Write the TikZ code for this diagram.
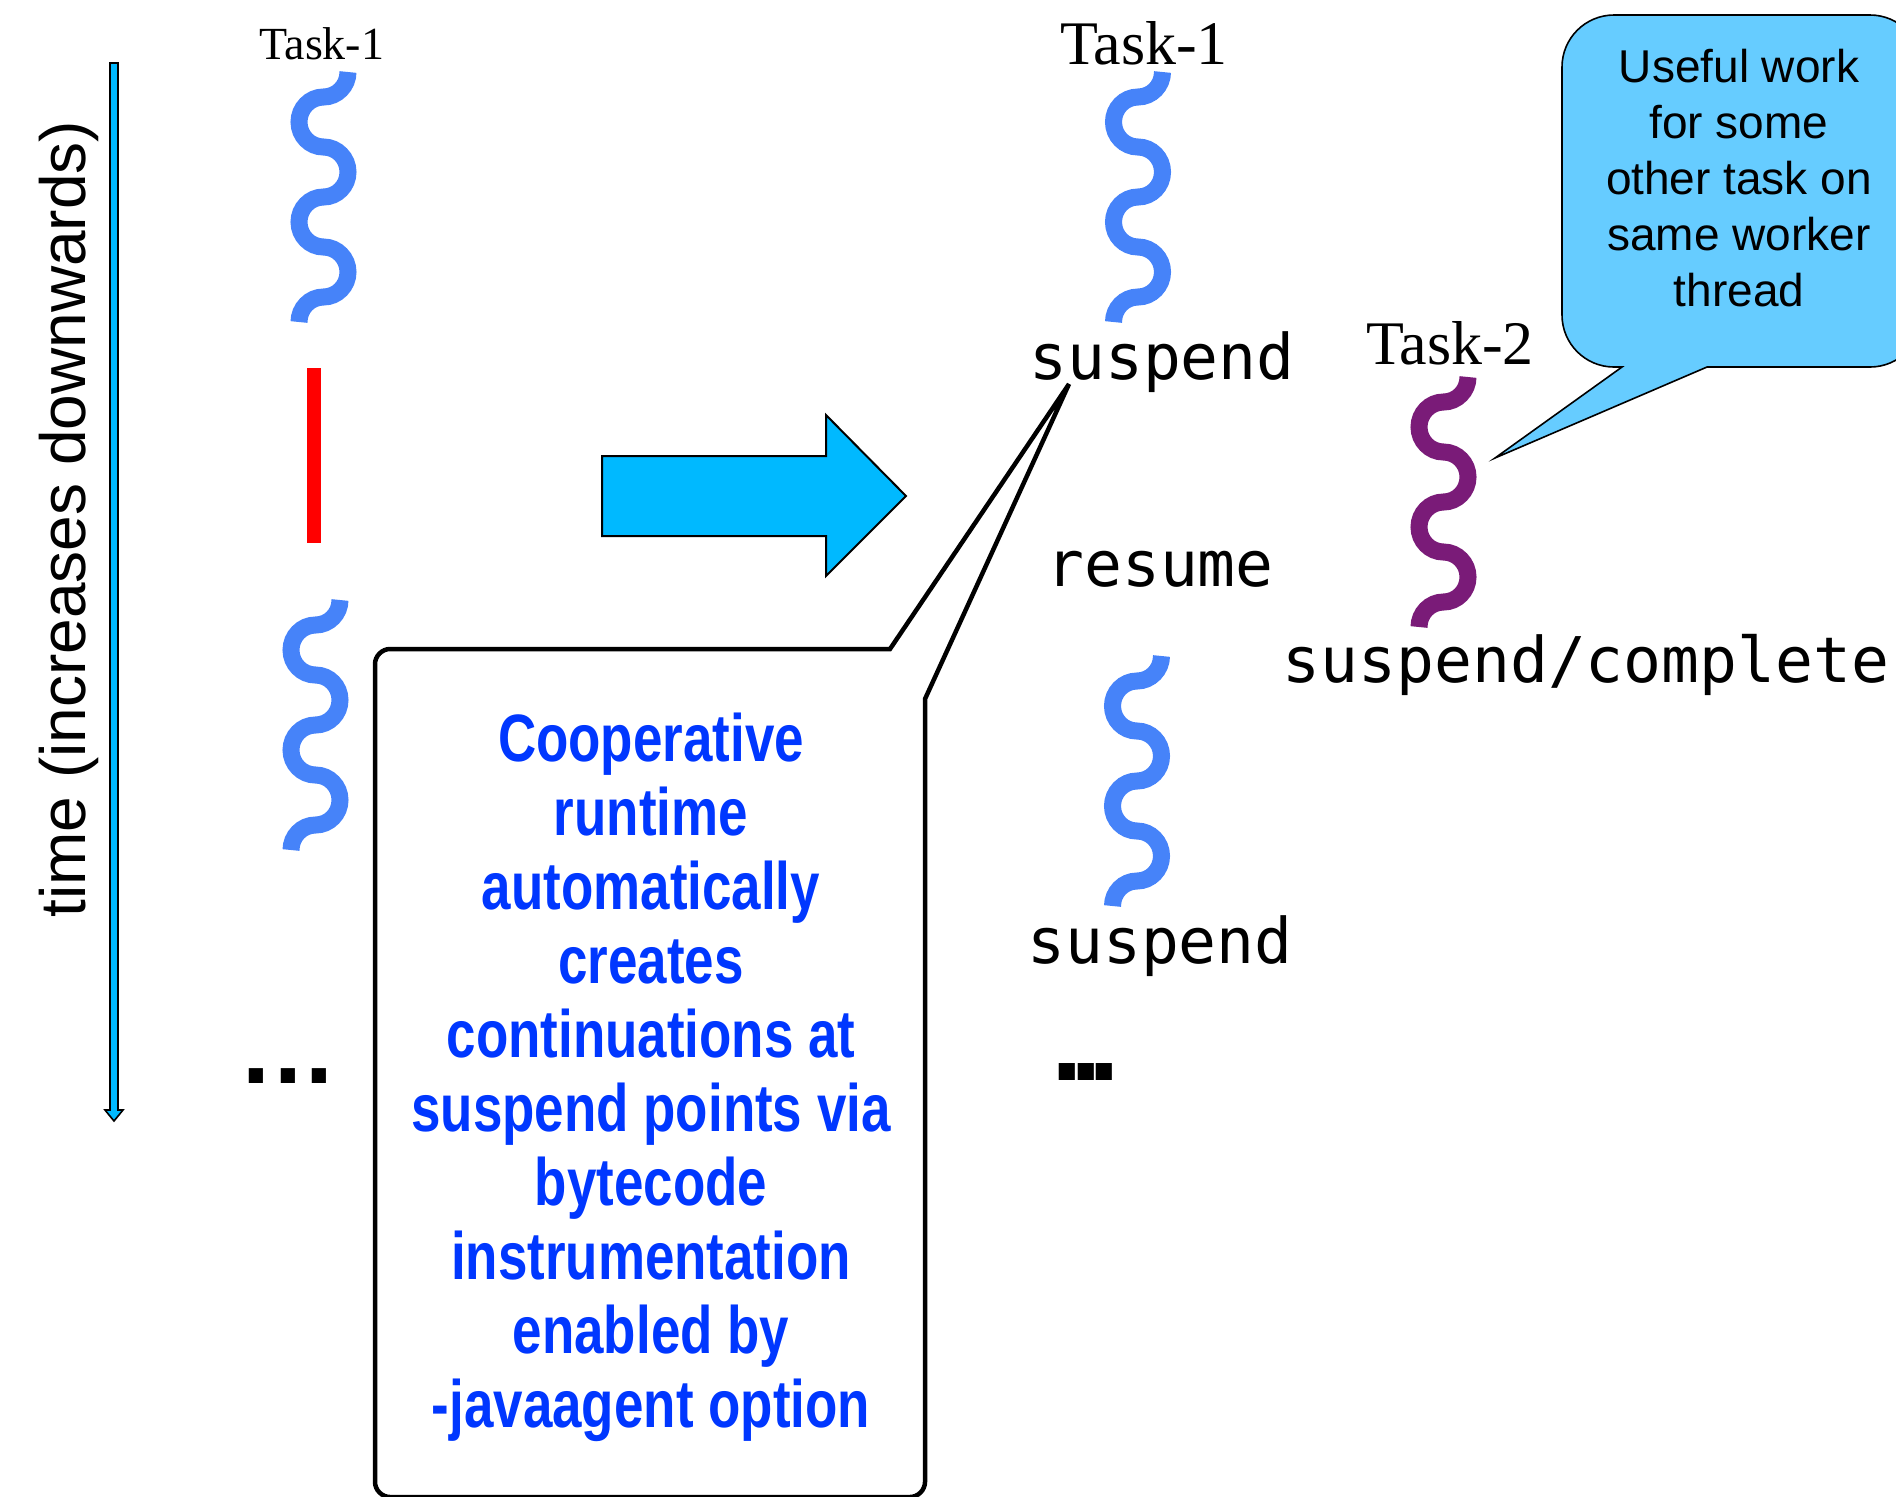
\documentclass[tikz,border=0pt]{standalone}
\usepackage{fontspec}
\setmainfont{Liberation Serif}
\newfontfamily\arialfont{Liberation Sans}
\newfontfamily\condfont[FakeStretch=0.79]{Liberation Sans}
\newfontfamily\codefont{DejaVu Sans Mono}

\definecolor{waveblue}{HTML}{4683F9}
\definecolor{wavepurple}{HTML}{7A1B78}
\definecolor{arrowcyan}{HTML}{00B9FF}
\definecolor{bubblecyan}{HTML}{66CCFF}
\definecolor{noteblue}{HTML}{0037FF}

% one wavy task segment: middle x, top y, colour
\newcommand\taskwave[3]{%
  \begin{scope}[shift={(#1,#2)}]
    \draw[line width=8.5pt,#3]
      (24.5,0) .. controls (24.5,13.8) and (13.5,25) .. (0,25)
      .. controls (-13.5,25) and (-24.5,36.2) .. (-24.5,50)
      .. controls (-24.5,63.8) and (-13.5,75) .. (0,75)
      .. controls (13.5,75) and (24.5,86.2) .. (24.5,100)
      .. controls (24.5,113.8) and (13.5,125) .. (0,125)
      .. controls (-13.5,125) and (-24.5,136.2) .. (-24.5,150)
      .. controls (-24.5,163.8) and (-13.5,175) .. (0,175)
      .. controls (13.5,175) and (24.5,186.2) .. (24.5,200)
      .. controls (24.5,213.8) and (13.5,225) .. (0,225)
      .. controls (-13.5,225) and (-24.5,236.2) .. (-24.5,250);
  \end{scope}}

\tikzset{
  tasklbl/.style={anchor=base,inner sep=0pt,font=\fontsize{31pt}{36pt}\selectfont},
  codelbl/.style={anchor=base,inner sep=0pt,font=\codefont\fontsize{31.5pt}{36pt}\selectfont},
  noteline/.style={anchor=base,inner sep=0pt,text=noteblue,
    font=\condfont\bfseries\fontsize{33.5pt}{37pt}\selectfont},
  bubbleline/.style={anchor=base,inner sep=0pt,
    font=\arialfont\fontsize{23pt}{28pt}\selectfont},
  blockarrow/.style={fill=arrowcyan,draw=black,line width=1pt,line join=miter},
}

\begin{document}
\begin{tikzpicture}[x=0.5pt,y=-0.5pt]
\useasboundingbox (0,0) rectangle (1896,1496);
\clip (0,0) rectangle (1896,1496);

% time axis
\draw[blockarrow,line width=0.8pt] (110,63) -- (118,63) -- (118,1110) -- (123,1110)
  -- (114,1121) -- (105,1110) -- (110,1110) -- cycle;
\node[rotate=90,anchor=base,inner sep=0pt,font=\arialfont\fontsize{32pt}{38pt}\selectfont]
  (timelbl) at (85,519) {time (increases downwards)};

% blocking execution of Task-1
\node[tasklbl,font=\fontsize{23pt}{28pt}\selectfont] (lefttask) at (322,59) {Task-1};
\taskwave{323.5}{72}{waveblue}
\fill[red] (307,368) rectangle (321,543);
\taskwave{315.5}{600}{waveblue}
\node[anchor=base,inner sep=0pt,font=\arialfont\bfseries\fontsize{50pt}{56pt}\selectfont]
  (leftdots) at (288,1083) {.\kern2pt.\kern2pt.};

% transformation arrow
\draw[blockarrow] (602,456) -- (826,456) -- (826,415) -- (906,496) -- (826,576)
  -- (826,536) -- (602,536) -- cycle;

% callout box pointing at the suspend point
\draw[line width=2.25pt,fill=white,line join=miter]
  (890,649) -- (1069,384) -- (925,699) -- (925,1482)
  .. controls (925,1490) and (918,1497) .. (910,1497) -- (390,1497)
  .. controls (382,1497) and (375,1490) .. (375,1482) -- (375,664)
  .. controls (375,656) and (382,649) .. (390,649) -- cycle;
\foreach \ln [count=\i] in {Cooperative,runtime,automatically,creates,
    continuations at,suspend points via,bytecode,instrumentation,
    enabled by,-javaagent option}
  \node[noteline] (note\i) at (651,{761+74*(\i-1)}) {\ln};

% cooperative execution of Task-1
\node[tasklbl] (righttask) at (1144,64) {Task-1};
\taskwave{1138}{72}{waveblue}
\node[codelbl] (susp1) at (1162,379) {suspend};
\node[codelbl] (resume) at (1160,586) {resume};
\taskwave{1137}{656}{waveblue}
\node[codelbl] (susp2) at (1160,963) {suspend};
\node[anchor=base,inner sep=0pt,font=\arialfont\bfseries\fontsize{57pt}{62pt}\selectfont]
  (rightdots) at (1086,1080) {.\kern-6.5pt.\kern-6.5pt.};

% Task-2 on the same worker
\node[tasklbl] (task2) at (1450,364) {Task-2};
\taskwave{1443.5}{377}{wavepurple}
\node[codelbl] (susp3) at (1586,682) {suspend/complete};

% speech bubble
\draw[fill=bubblecyan,line width=0.8pt,line join=miter]
  (1622,367) -- (1495,458) -- (1707,367) -- (1870,367)
  .. controls (1898.7,367) and (1922,343.7) .. (1922,315) -- (1922,67)
  .. controls (1922,38.3) and (1898.7,15) .. (1870,15) -- (1614,15)
  .. controls (1585.3,15) and (1562,38.3) .. (1562,67) -- (1562,315)
  .. controls (1562,343.7) and (1585.3,367) .. (1614,367) -- cycle;
\foreach \ln [count=\i] in {Useful work,for some,other task on,same worker,thread}
  \node[bubbleline] (bub\i) at (1739,{82+56*(\i-1)}) {\ln};
\end{tikzpicture}
\end{document}
